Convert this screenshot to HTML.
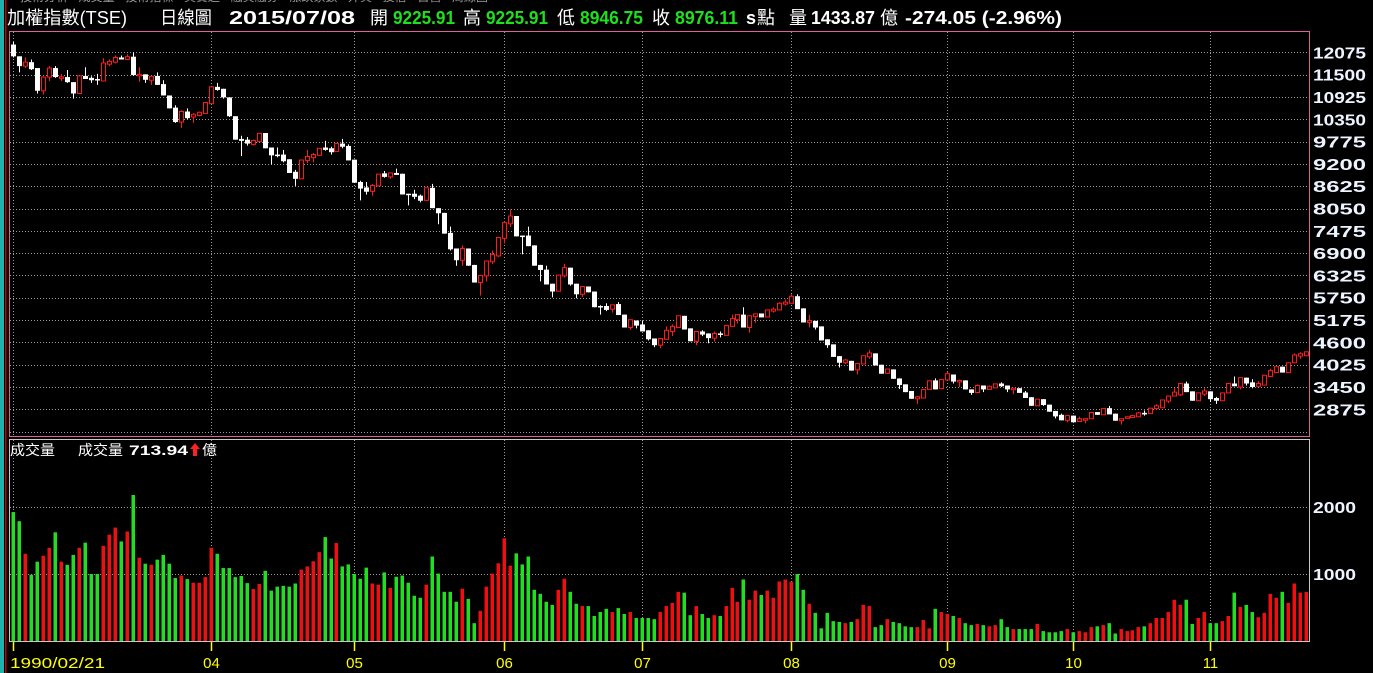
<!DOCTYPE html>
<html><head><meta charset="utf-8"><title>加權指數 日線圖</title>
<style>
html,body{margin:0;padding:0;background:#000;width:1373px;height:673px;overflow:hidden;}
svg{display:block;font-family:"Liberation Sans","Noto Sans CJK TC",sans-serif;}
</style></head>
<body>
<svg id="chart" width="1373" height="673" viewBox="0 0 1373 673" xmlns="http://www.w3.org/2000/svg">
<rect x="0" y="0" width="1373" height="673" fill="#000"/>
<rect x="0" y="0" width="4" height="673" fill="#1fb3ad"/>
<rect x="0" y="0" width="4" height="132" fill="#1fb3ad"/>
<rect x="5" y="0" width="1.5" height="673" fill="#c80000"/>
<g fill="#9a9a9a" font-size="12">
<text x="20" y="1">技術分析 - 成交量 - 技術指標 - 買賣超 - 融資融券 - 漲跌家數 - 外資 - 投信 - 自營 - 周線圖</text>
</g>
<g font-size="18">
<text x="7" y="24" fill="#fff" textLength="120" lengthAdjust="spacingAndGlyphs">加權指數(TSE)</text>
<text x="160" y="24" fill="#fff" textLength="52" lengthAdjust="spacingAndGlyphs">日線圖</text>
<text x="229" y="24" fill="#fff" font-weight="bold" textLength="126" lengthAdjust="spacingAndGlyphs">2015/07/08</text>
<text x="370" y="24" fill="#fff" textLength="18" lengthAdjust="spacingAndGlyphs">開</text>
<text x="393" y="24" fill="#1ee01e" font-weight="bold" textLength="62" lengthAdjust="spacingAndGlyphs">9225.91</text>
<text x="463" y="24" fill="#fff" textLength="18" lengthAdjust="spacingAndGlyphs">高</text>
<text x="486" y="24" fill="#1ee01e" font-weight="bold" textLength="62" lengthAdjust="spacingAndGlyphs">9225.91</text>
<text x="557" y="24" fill="#fff" textLength="18" lengthAdjust="spacingAndGlyphs">低</text>
<text x="580" y="24" fill="#1ee01e" font-weight="bold" textLength="63" lengthAdjust="spacingAndGlyphs">8946.75</text>
<text x="652" y="24" fill="#fff" textLength="18" lengthAdjust="spacingAndGlyphs">收</text>
<text x="675" y="24" fill="#1ee01e" font-weight="bold" textLength="63" lengthAdjust="spacingAndGlyphs">8976.11</text>
<text x="746" y="24" fill="#fff" font-weight="bold">s</text>
<text x="757" y="24" fill="#fff" textLength="18" lengthAdjust="spacingAndGlyphs">點</text>
<text x="789" y="24" fill="#fff" textLength="18" lengthAdjust="spacingAndGlyphs">量</text>
<text x="811" y="24" fill="#fff" font-weight="bold" textLength="64" lengthAdjust="spacingAndGlyphs">1433.87</text>
<text x="880" y="24" fill="#fff" textLength="18" lengthAdjust="spacingAndGlyphs">億</text>
<text x="905" y="24" fill="#fff" font-weight="bold" textLength="157" lengthAdjust="spacingAndGlyphs">-274.05 (-2.96%)</text>
</g>
<g id="grid"></g>
<g id="vol"></g>
<g id="candles"></g>
<rect x="9.5" y="31.5" width="1300" height="405" fill="none" stroke="#e0609a" stroke-width="1"/>
<rect x="9.5" y="439.5" width="1300" height="202" fill="none" stroke="#c8c8c8" stroke-width="1"/>
<g id="labels"></g>
<g font-size="14">
<text x="10" y="455" fill="#fff" textLength="45" lengthAdjust="spacingAndGlyphs">成交量</text>
<text x="78" y="455" fill="#fff" textLength="45" lengthAdjust="spacingAndGlyphs">成交量</text>
<text x="129" y="455" fill="#fff" font-weight="bold" textLength="59" lengthAdjust="spacingAndGlyphs">713.94</text>
<path d="M195 443 L200 449 L197 449 L197 456 L193 456 L193 449 L190 449 Z" fill="#ff2020"/>
<text x="202" y="455" fill="#fff" textLength="15" lengthAdjust="spacingAndGlyphs">億</text>
</g>
</svg>
<script>
const opens=[12277,11974,11722,11823,11671,11086,11439,11671,11430,11439,11308,11015,11469,11419,11389,11338,11772,11823,11944,11893,11964,11490,11510,11358,11469,11258,10965,10652,10279,10551,10410,10450,10501,10753,11187,11137,10915,10430,9845,9825,9704,9774,9996,9623,9441,9441,9320,8997,8816,9290,9361,9421,9623,9603,9522,9724,9663,9310,8735,8594,8493,8634,8957,8866,8967,8947,8432,8432,8382,8261,8584,8059,7938,7423,7020,6717,7020,6596,6142,6314,6677,6828,7282,7655,7857,7353,7353,7100,6596,6475,6112,5920,6314,6525,6112,5839,6041,5910,5537,5537,5456,5587,5315,4982,5163,5062,4911,4700,4527,4679,4881,4982,5284,4961,4628,4881,4830,4709,4830,4780,5012,5183,5315,4982,5264,5345,5254,5405,5436,5587,5607,5789,5476,5113,5153,5012,4679,4548,4245,4074,4124,3892,4043,4225,4316,4023,3801,3902,3670,3518,3347,3145,3165,3387,3619,3408,3630,3771,3589,3619,3387,3307,3488,3387,3428,3539,3488,3397,3418,3307,3186,2964,3135,2994,2832,2732,2590,2711,2560,2601,2631,2802,2732,2903,2762,2580,2641,2661,2681,2782,2762,2893,2913,3085,3216,3246,3539,3337,3095,3266,3337,3165,3095,3297,3539,3448,3690,3569,3468,3498,3720,3821,3973,3821,4074,4245,4255];
const highs=[12347,11974,11944,11893,11671,11459,11722,11722,11520,11621,11308,11469,11691,11459,11520,11924,11893,11994,11994,12024,12075,11691,11510,11459,11560,11358,10965,10713,10582,10632,10511,10551,10783,11187,11288,11137,10915,10430,9926,9895,9825,9986,9996,9623,9623,9562,9320,9048,9300,9562,9482,9603,9794,9643,9724,9845,9704,9310,8765,8735,8685,8937,9018,8967,9078,8947,8432,8533,8412,8584,8685,8059,7938,7585,7020,7100,7020,6596,6324,6697,6969,7302,7726,8029,7857,7353,7585,7100,6596,6576,6112,6334,6626,6525,6112,6041,6041,5910,5557,5607,5567,5637,5315,5183,5163,5153,4911,4700,4700,5012,5062,5284,5284,4961,4881,4911,4830,4881,4881,5032,5315,5315,5506,5284,5335,5345,5436,5506,5637,5708,5839,5839,5476,5304,5153,5012,4679,4548,4245,4174,4124,4053,4255,4407,4316,4023,3912,3902,3670,3518,3347,3216,3387,3609,3670,3640,3841,3771,3640,3619,3387,3518,3488,3488,3529,3569,3488,3418,3418,3347,3186,3135,3135,2994,2832,2762,2732,2711,2681,2631,2792,2802,2893,2964,2762,2631,2681,2732,2812,2842,2903,3004,3115,3216,3418,3539,3589,3337,3297,3418,3337,3196,3297,3539,3720,3690,3690,3650,3599,3751,3922,3973,3973,4074,4316,4346,4356];
const lows=[11944,11560,11671,11621,11015,10985,11338,11419,11338,11288,10884,11015,11389,11288,11237,11338,11722,11792,11893,11873,11469,11318,11288,11237,11237,10965,10632,10259,10128,10350,10259,10430,10501,10753,11086,10884,10410,9825,9401,9673,9673,9774,9603,9189,9371,9240,8967,8634,8816,9219,9240,9421,9542,9441,9522,9603,9290,8715,8261,8412,8382,8634,8846,8816,8917,8412,8130,8291,8210,8261,8059,7645,7403,6969,6576,6576,6576,6142,5809,6172,6616,6798,7151,7575,7332,6869,7080,6576,6172,6092,5759,5920,6273,6061,5738,5769,5890,5506,5315,5405,5365,5304,4982,4921,4961,4881,4649,4477,4447,4679,4760,4982,4931,4628,4527,4760,4578,4618,4729,4780,5012,5083,4982,4850,5103,5244,5254,5365,5436,5547,5607,5456,5113,4982,4931,4649,4457,4225,3952,4043,3872,3771,4043,4174,4003,3791,3801,3660,3397,3317,3145,3014,3165,3387,3387,3408,3630,3539,3448,3387,3246,3307,3317,3387,3428,3448,3317,3266,3297,3165,2964,2964,2964,2812,2641,2590,2540,2540,2560,2510,2631,2732,2732,2742,2580,2479,2641,2661,2681,2711,2762,2863,2913,3034,3216,3216,3317,3095,3095,3216,3065,3014,3095,3297,3468,3387,3488,3418,3468,3498,3720,3821,3821,3821,4074,4174,4255];
const closes=[11974,11722,11823,11641,11086,11439,11671,11439,11445,11308,11015,11469,11389,11358,11358,11802,11843,11944,11893,11964,11490,11510,11369,11459,11237,10965,10632,10279,10551,10380,10481,10531,10783,11187,11106,10915,10430,9825,9794,9724,9805,9986,9603,9421,9401,9270,8967,8816,9300,9391,9441,9603,9562,9502,9724,9643,9290,8715,8564,8483,8644,8937,8866,8967,8917,8412,8412,8352,8251,8584,8059,7928,7403,6999,6717,7020,6576,6142,6324,6697,6869,7302,7686,7857,7332,7332,7080,6576,6465,6092,5910,6334,6525,6092,5839,6041,5890,5506,5506,5436,5567,5304,4982,5183,5032,4881,4679,4527,4700,4911,5012,5284,4931,4628,4881,4800,4709,4830,4800,5032,5214,5315,4982,5284,5335,5244,5436,5456,5607,5637,5789,5456,5113,5163,4982,4649,4527,4225,4074,4144,3872,4053,4255,4326,4003,3791,3912,3660,3498,3317,3145,3196,3387,3609,3387,3640,3791,3589,3619,3387,3297,3488,3387,3468,3529,3468,3387,3418,3297,3165,2964,3135,2984,2812,2691,2590,2711,2540,2631,2631,2792,2732,2893,2742,2580,2631,2681,2711,2782,2742,2903,2964,3115,3216,3317,3539,3317,3095,3297,3347,3135,3095,3297,3539,3468,3690,3539,3448,3539,3751,3872,3973,3821,4074,4275,4306,4356];
const volumes=[1924,1788,1302,989,1184,1273,1391,1622,1184,1137,1285,1391,1468,1000,1000,1421,1587,1693,1486,1634,2179,1243,1154,1137,1214,1285,1154,941,977,924,870,870,953,1391,1302,1089,1089,953,971,864,776,852,1048,752,811,823,811,858,1066,1113,1190,1326,1551,1231,1462,1113,1143,1000,929,1095,858,841,1024,793,959,977,870,675,645,841,1261,1006,734,734,586,781,628,266,450,811,1006,1160,1533,1125,1308,1143,1261,764,704,586,539,764,929,734,556,521,521,373,432,480,432,491,403,432,343,343,343,326,432,521,568,734,722,385,521,403,343,385,373,521,793,586,918,616,752,687,752,645,888,918,888,1000,764,556,420,189,420,296,284,266,284,326,539,521,207,237,326,284,266,219,207,207,314,189,480,432,403,373,343,266,237,255,237,219,237,326,207,178,178,178,178,255,148,130,130,148,178,130,148,130,207,219,237,266,112,178,148,160,207,219,266,343,343,432,616,539,616,255,343,432,266,266,296,373,722,509,539,432,355,420,704,645,734,568,858,722,734];
const volumeColors=("ggrggrrgrg"+"grgggrrrgr"+"grgrggggrg"+"rrrrgggggg"+"rrggggggrr"+"rrggrggggg"+"rrgrgggggr"+"gggggrggrr"+"rrrrgggggg"+"grrggrgggg"+"rggrggggrr"+"rrggrggrgr"+"rrgrrgrrrr"+"rggrgggggr"+"grrrggrggg"+"grrrgrrgrg"+"grgrrggrgg"+"grggggrgrr"+"rgrggrrrrg"+"rrrrrrggrr"+"ggrrgrggrr"+"rrgrrrr").split('');
const priceTicks=[12075,11500,10925,10350,9775,9200,8625,8050,7475,6900,6325,5750,5175,4600,4025,3450,2875];
const priceGridExtra=[2300];
const volTicks=[2000,1000];
const monthIndex=[33,57,82,105,130,156,177,200];
const monthLabels=['04','05','06','07','08','09','10','11'];
const startLabel='1990/02/21';

const NS='http://www.w3.org/2000/svg';
function xOf(i){return 13.3+i*5.985;}
function yP(p){return 52.4+(12075-p)/25.78;}
function yV(v){return 641-v*0.067;}
function mk(tag,attrs,parent){const e=document.createElementNS(NS,tag);for(const k in attrs)e.setAttribute(k,attrs[k]);parent.appendChild(e);return e;}

const grid=document.getElementById('grid');
const dash={stroke:'#9a9a9a','stroke-width':1,'stroke-dasharray':'1,2'};
priceTicks.concat(priceGridExtra).forEach(t=>{
  const y=Math.round(yP(t))+0.5;
  const l=mk('line',Object.assign({x1:10,x2:1309,y1:y,y2:y},dash),grid);
  
  
});
volTicks.forEach(t=>{
  const y=Math.round(yV(t))+0.5;
  const l=mk('line',Object.assign({x1:10,x2:1309,y1:y,y2:y},dash),grid);
  
  
});
[0].concat(monthIndex).forEach(i=>{
  const x=Math.round(xOf(i))+0.5;
  const a=mk('line',Object.assign({x1:x,x2:x,y1:32,y2:436},dash),grid);
  
  
  const b=mk('line',Object.assign({x1:x,x2:x,y1:440,y2:641},dash),grid);
  
  
  const t=mk('line',{x1:x,x2:x,y1:642,y2:651,stroke:'#ffff00','stroke-width':1.5},grid);
  
  
});

const vol=document.getElementById('vol');
volumes.forEach((v,i)=>{
  const cx=Math.round(xOf(i));
  const y=yV(v);
  const r=mk('rect',{x:cx-1.5,y:y,width:3.5,height:641-y,fill:volumeColors[i]==='r'?'#ee1010':'#22dd22'},vol);
  
  
});

const cg=document.getElementById('candles');
opens.forEach((o,i)=>{
  const c=closes[i],h=highs[i],lo=lows[i];
  const cx=Math.round(xOf(i));
  const up=c>=o;
  const col=up?'#ff1a1a':'#ffffff';
  const g=mk('g',{},cg);
  
  
  mk('line',{x1:cx+0.5,x2:cx+0.5,y1:yP(h),y2:yP(lo),stroke:col,'stroke-width':1},g);
  let top=yP(Math.max(o,c)),bot=yP(Math.min(o,c));
  if(bot-top<1.5){bot=top+1.5;}
  if(up){
    mk('rect',{x:cx-1.5,y:top,width:4,height:bot-top,fill:'#000',stroke:col,'stroke-width':1},g);
  }else{
    mk('rect',{x:cx-2,y:top,width:5,height:bot-top,fill:col},g);
  }
});

const lab=document.getElementById('labels');
priceTicks.forEach(t=>{
  const e=mk('text',{x:1313,y:yP(t)+6,fill:'#eef4ff','font-size':16,'font-weight':'bold',textLength:53,lengthAdjust:'spacingAndGlyphs'},lab);
  
  
  e.textContent=String(t);
});
volTicks.forEach(t=>{
  const e=mk('text',{x:1313,y:yV(t)+6,fill:'#eef4ff','font-size':16,'font-weight':'bold',textLength:43,lengthAdjust:'spacingAndGlyphs'},lab);
  
  
  e.textContent=String(t);
});
const s=mk('text',{x:10,y:668,fill:'#ffff00','font-size':15,textLength:95,lengthAdjust:'spacingAndGlyphs'},lab);


s.textContent=startLabel;
monthIndex.forEach((i,k)=>{
  const e=mk('text',{x:Math.round(xOf(i))+0.5,y:668,fill:'#ffff00','font-size':15,'text-anchor':'middle'},lab);
  
  
  e.textContent=monthLabels[k];
});
</script>
</body></html>
